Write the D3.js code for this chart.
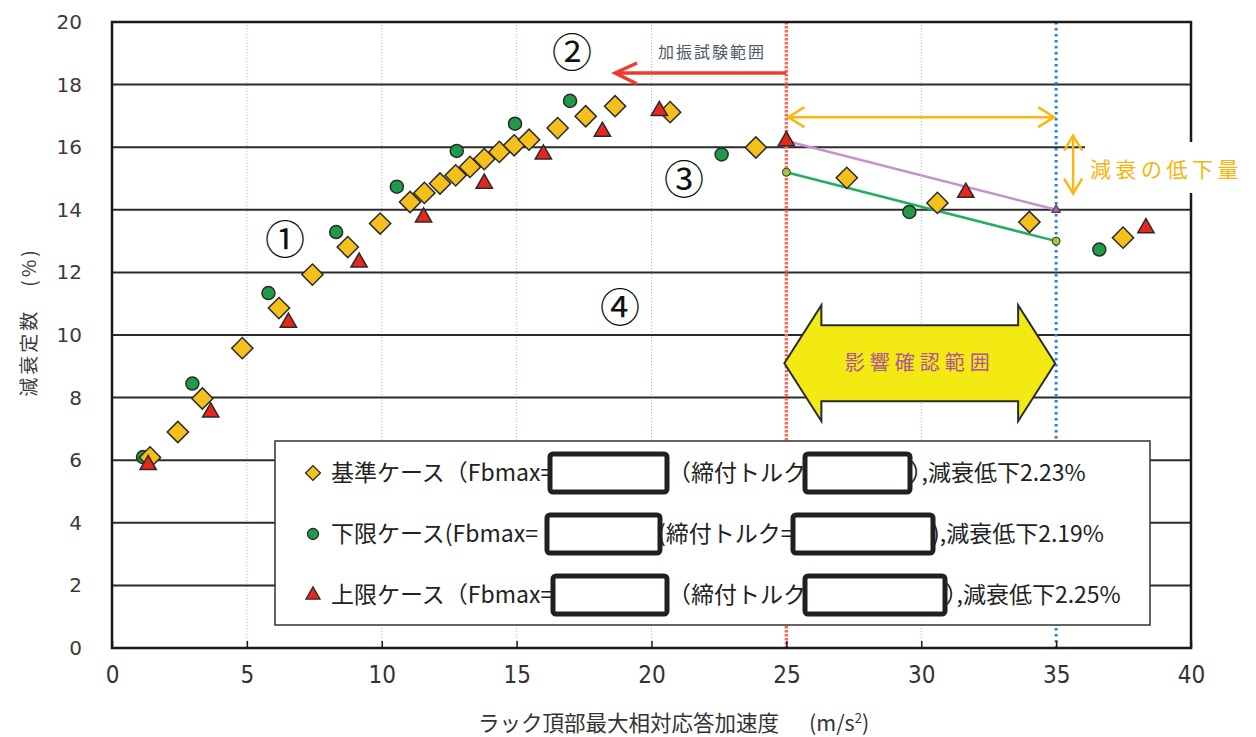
<!DOCTYPE html>
<html>
<head>
<meta charset="utf-8">
<script src="https://d3js.org/d3.v7.min.js"></script>
<style>
  body { margin: 0; background: #fff; }
</style>
</head>
<body>
<script>
// data
const baseX  = [1.41, 2.44, 3.35, 4.83, 6.19, 7.43, 8.74, 9.94, 11.05, 11.58, 12.16, 12.74, 13.27, 13.80, 14.36, 14.91, 15.46, 16.52, 17.56, 18.65, 20.69, 23.87, 27.24, 30.60, 34.01, 37.48];
const baseY  = [6.09, 6.90, 7.97, 9.58, 10.86, 11.93, 12.81, 13.56, 14.25, 14.54, 14.84, 15.10, 15.37, 15.62, 15.85, 16.06, 16.24, 16.61, 16.99, 17.31, 17.12, 15.99, 15.02, 14.22, 13.61, 13.11];
const lowerX = [1.15, 2.98, 5.80, 8.31, 10.56, 12.78, 14.94, 16.98, 22.60, 29.56, 36.60];
const lowerY = [6.10, 8.45, 11.34, 13.29, 14.74, 15.88, 16.75, 17.48, 15.77, 13.93, 12.73];
const upperX = [1.34, 3.66, 6.54, 9.16, 11.55, 13.80, 15.99, 18.18, 20.29, 25.0, 31.65, 38.33];
const upperY = [5.85, 7.53, 10.40, 12.32, 13.76, 14.84, 15.77, 16.50, 17.16, 16.20, 14.55, 13.42];

// decline lines between the two range limits
const lowerTrend = [[25, 15.2], [35, 13.0]];
const upperTrend = [[25, 16.2], [35, 14.0]];

const xTicks = [0, 5, 10, 15, 20, 25, 30, 35, 40];
const yTicks = [0, 2, 4, 6, 8, 10, 12, 14, 16, 18, 20];
const rangeLo = 25, rangeHi = 35;

const legendRows = [
  { kind: "diamond", seg: ["基準ケース（Fbmax=", "（締付トルク=", "）,減衰低下2.23%"] },
  { kind: "circle",  seg: ["下限ケース(Fbmax=", "(締付トルク=", "),減衰低下2.19%"] },
  { kind: "triangle", seg: ["上限ケース（Fbmax=", "（締付トルク=", "）,減衰低下2.25%"] }
];

const width = 1256, height = 737;
const margin = { left: 112, top: 22, right: 65, bottom: 89 };
const jp = "'Noto Sans CJK JP', 'Noto Sans', sans-serif";

const svg = d3.select("body").append("svg")
  .attr("width", width).attr("height", height);

const x = d3.scaleLinear().domain([0, 40]).range([margin.left, width - margin.right]);
const y = d3.scaleLinear().domain([0, 20]).range([height - margin.bottom, margin.top]);

// vertical light grid
svg.append("g").selectAll("line")
  .data(xTicks.filter(d => d > 0 && d < 40 && d !== rangeLo && d !== rangeHi))
  .join("line")
  .attr("x1", d => x(d)).attr("x2", d => x(d))
  .attr("y1", y(20)).attr("y2", y(0))
  .attr("stroke", "#8ec3e0").attr("stroke-width", 1).attr("stroke-dasharray", "1,2");

// horizontal grid
svg.append("g").selectAll("line")
  .data(yTicks.filter(d => d > 0))
  .join("line")
  .attr("x1", x(0)).attr("x2", x(40))
  .attr("y1", d => y(d)).attr("y2", d => y(d))
  .attr("stroke", "#2b2b2b").attr("stroke-width", 2);

// range lines
svg.append("line")
  .attr("x1", x(rangeLo)).attr("x2", x(rangeLo)).attr("y1", y(20)).attr("y2", y(0))
  .attr("stroke", "#f26b5b").attr("stroke-width", 3.5).attr("stroke-dasharray", "2.5,1.5");
svg.append("line")
  .attr("x1", x(rangeHi)).attr("x2", x(rangeHi)).attr("y1", y(20)).attr("y2", y(0))
  .attr("stroke", "#2a82d4").attr("stroke-width", 3).attr("stroke-dasharray", "2.5,3.5");

// frame
svg.append("rect")
  .attr("x", x(0)).attr("y", y(20)).attr("width", x(40) - x(0)).attr("height", y(0) - y(20))
  .attr("fill", "none").attr("stroke", "#1a1a1a").attr("stroke-width", 2.5);

// axes
const xAxis = svg.append("g")
  .attr("transform", `translate(0,${y(0)})`)
  .call(d3.axisBottom(x).tickValues(xTicks).tickSizeInner(-7).tickSizeOuter(0).tickPadding(18));
xAxis.select(".domain").remove();
xAxis.selectAll(".tick line").attr("stroke", "#1a1a1a").attr("stroke-width", 1.5);
xAxis.selectAll(".tick text")
  .attr("font-family", "'Liberation Sans Narrow', 'DejaVu Sans Condensed', sans-serif")
  .attr("font-size", 24).attr("fill", "#333");

const yAxis = svg.append("g")
  .attr("transform", `translate(${x(0)},0)`)
  .call(d3.axisLeft(y).tickValues(yTicks).tickSize(0).tickPadding(30));
yAxis.select(".domain").remove();
yAxis.selectAll(".tick text")
  .attr("font-family", "'DejaVu Sans', sans-serif").attr("font-size", 20).attr("fill", "#3a3a3a");

// axis titles
svg.append("text")
  .attr("x", 478).attr("y", 731)
  .attr("font-family", jp).attr("font-size", 21.5).attr("fill", "#333")
  .text("ラック頂部最大相対応答加速度")
  .append("tspan").attr("dx", 30).text("(m/s")
  .append("tspan").attr("font-size", 13).attr("dy", -8).text("2")
  .append("tspan").attr("font-size", 21.5).attr("dy", 8).text(")");

svg.append("text")
  .attr("transform", "translate(36,322) rotate(-90)")
  .attr("text-anchor", "middle")
  .attr("font-family", jp).attr("font-size", 19).attr("fill", "#3a3a3a")
  .attr("letter-spacing", 3)
  .text("減衰定数　(%)");

// trend lines
const line = d3.line().x(d => x(d[0])).y(d => y(d[1]));
svg.append("path").attr("d", line(upperTrend))
  .attr("fill", "none").attr("stroke", "#c98fd0").attr("stroke-width", 2.5);
svg.append("path").attr("d", line(lowerTrend))
  .attr("fill", "none").attr("stroke", "#22b060").attr("stroke-width", 2.5);

// markers
const diamond = d3.symbol().type(d3.symbolSquare).size(225);
const tri = d3.symbol().type(d3.symbolTriangle).size(115);
const circ = d3.symbol().type(d3.symbolCircle).size(133);

svg.append("g").selectAll("path")
  .data(lowerX.map((v, i) => [v, lowerY[i]]))
  .join("path")
  .attr("d", circ)
  .attr("transform", d => `translate(${x(d[0])},${y(d[1])})`)
  .attr("fill", "#1e9a48").attr("stroke", "#2a2a2a").attr("stroke-width", 1.5);

svg.append("g").selectAll("path")
  .data(baseX.map((v, i) => [v, baseY[i]]))
  .join("path")
  .attr("d", diamond)
  .attr("transform", d => `translate(${x(d[0])},${y(d[1])}) rotate(45)`)
  .attr("fill", "#f5bf1c").attr("stroke", "#2a2a2a").attr("stroke-width", 1.5);

svg.append("g").selectAll("path")
  .data(upperX.map((v, i) => [v, upperY[i]]))
  .join("path")
  .attr("d", tri)
  .attr("transform", d => `translate(${x(d[0])},${y(d[1])})`)
  .attr("fill", "#e8261c").attr("stroke", "#2a2a2a").attr("stroke-width", 1.5);

// small end markers of the decline lines
svg.append("g").selectAll("circle")
  .data([lowerTrend[0], lowerTrend[1]])
  .join("circle")
  .attr("cx", d => x(d[0])).attr("cy", d => y(d[1])).attr("r", 4)
  .attr("fill", "#a9c23f").attr("stroke", "#333").attr("stroke-width", 1);
svg.append("path")
  .attr("d", d3.symbol().type(d3.symbolTriangle).size(35))
  .attr("transform", `translate(${x(upperTrend[1][0])},${y(upperTrend[1][1])})`)
  .attr("fill", "#a45cb4").attr("stroke", "#333").attr("stroke-width", 1);

// red arrow: test range
const ay = y(18.37);
svg.append("line").attr("x1", x(rangeLo)).attr("x2", x(18.75)).attr("y1", ay).attr("y2", ay)
  .attr("stroke", "#ee3b2b").attr("stroke-width", 3.5);
svg.append("path")
  .attr("d", `M${x(18.65) + 22},${ay - 10} L${x(18.65)},${ay} L${x(18.65) + 22},${ay + 11}`)
  .attr("fill", "none").attr("stroke", "#ee3b2b").attr("stroke-width", 3.5);
svg.append("text")
  .attr("x", 712).attr("y", 58).attr("text-anchor", "middle")
  .attr("font-family", jp).attr("font-size", 16).attr("letter-spacing", 2).attr("fill", "#4e5868")
  .text("加振試験範囲");

// orange arrows
const orange = "#fbb70f";
const oy = y(16.96);
svg.append("line").attr("x1", x(rangeLo) + 2).attr("x2", x(rangeHi) - 2).attr("y1", oy).attr("y2", oy)
  .attr("stroke", orange).attr("stroke-width", 2.5);
svg.append("path")
  .attr("d", `M${x(rangeLo) + 18},${oy - 10} L${x(rangeLo) + 2},${oy} L${x(rangeLo) + 18},${oy + 10}
              M${x(rangeHi) - 18},${oy - 10} L${x(rangeHi) - 2},${oy} L${x(rangeHi) - 18},${oy + 10}`)
  .attr("fill", "none").attr("stroke", orange).attr("stroke-width", 2.5);

// white box behind the decline label
svg.append("rect").attr("x", 1085).attr("y", 142).attr("width", 171).attr("height", 51).attr("fill", "#fff");
const vx = x(35.63);
svg.append("line").attr("x1", vx).attr("x2", vx).attr("y1", y(16.37)).attr("y2", y(14.52))
  .attr("stroke", orange).attr("stroke-width", 2.5);
svg.append("path")
  .attr("d", `M${vx - 9},${y(16.37) + 15} L${vx},${y(16.37)} L${vx + 9},${y(16.37) + 15}
              M${vx - 9},${y(14.52) - 15} L${vx},${y(14.52)} L${vx + 9},${y(14.52) - 15}`)
  .attr("fill", "none").attr("stroke", orange).attr("stroke-width", 2.5);
svg.append("text")
  .attr("x", 1090).attr("y", 177)
  .attr("font-family", jp).attr("font-size", 21).attr("letter-spacing", 4.5).attr("fill", "#f6b40c")
  .text("減衰の低下量");

// big yellow double arrow
const cy = y(9.1), L = x(rangeLo) - 2, R = x(rangeHi) - 1;
const arrowPts = [
  [L, cy], [L + 37, cy - 58], [L + 37, cy - 38], [R - 37, cy - 38], [R - 37, cy - 58],
  [R, cy], [R - 37, cy + 58], [R - 37, cy + 38], [L + 37, cy + 38], [L + 37, cy + 58]
];
svg.append("path")
  .attr("d", d3.line()(arrowPts) + "Z")
  .attr("fill", "#f2ea12").attr("stroke", "#2a2a2a").attr("stroke-width", 2);
svg.append("text")
  .attr("x", (L + R) / 2).attr("y", cy + 7).attr("text-anchor", "middle")
  .attr("font-family", jp).attr("font-size", 20).attr("letter-spacing", 5).attr("fill", "#b0529e")
  .text("影響確認範囲");

// circled numbers
const nums = [["①", 285, 240], ["②", 572, 53], ["③", 684, 180], ["④", 620, 308]];
svg.append("g").selectAll("text")
  .data(nums).join("text")
  .attr("x", d => d[1]).attr("y", d => d[2]).attr("dy", "0.36em")
  .attr("text-anchor", "middle")
  .attr("font-family", jp).attr("font-size", 40).attr("fill", "#111")
  .text(d => d[0]);

// legend
svg.append("rect")
  .attr("x", 275).attr("y", 441).attr("width", 875).attr("height", 184)
  .attr("fill", "#fff").attr("stroke", "#333").attr("stroke-width", 1.5);

const rowY = [473, 534, 595];
const segX = [[331, 668, 910], [331, 658, 932], [331, 668, 945]];
const boxes = [[[550, 667], [805, 910]], [[547, 660], [793, 933]], [[553, 667], [805, 945]]];
const legSym = {
  diamond: d3.symbol().type(d3.symbolSquare).size(110),
  circle: d3.symbol().type(d3.symbolCircle).size(95),
  triangle: d3.symbol().type(d3.symbolTriangle).size(85)
};
const legFill = { diamond: "#f5bf1c", circle: "#1e9a48", triangle: "#e8261c" };

legendRows.forEach((r, i) => {
  const g = svg.append("g");
  g.append("path")
    .attr("d", legSym[r.kind])
    .attr("transform", `translate(313,${rowY[i]})` + (r.kind === "diamond" ? " rotate(45)" : ""))
    .attr("fill", legFill[r.kind]).attr("stroke", "#2a2a2a").attr("stroke-width", 1.3);
  r.seg.forEach((s, j) => {
    g.append("text")
      .attr("x", segX[i][j]).attr("y", rowY[i]).attr("dy", "0.36em")
      .attr("font-family", jp).attr("font-size", 23).attr("fill", "#222")
      .style("font-feature-settings", j === 2 ? "'halt'" : "normal")
      .text(s);
  });
  boxes[i].forEach(b => {
    g.append("rect")
      .attr("x", b[0]).attr("y", rowY[i] - 19).attr("width", b[1] - b[0]).attr("height", 38)
      .attr("rx", 3).attr("fill", "#fff").attr("stroke", "#231f20").attr("stroke-width", 5);
  });
});
</script>
</body>
</html>
